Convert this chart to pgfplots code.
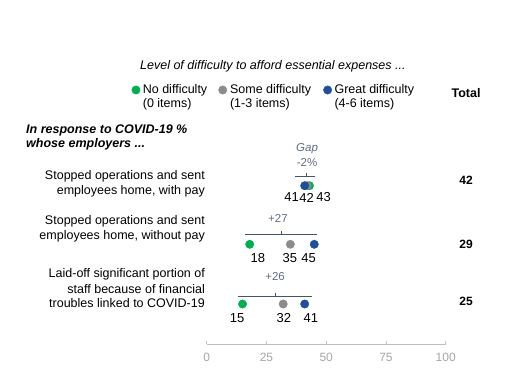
\documentclass[border=0pt]{standalone}
\usepackage{pgfplots}
\pgfplotsset{compat=1.18}
\usepackage{fontspec}
\setmainfont{Liberation Sans}
\definecolor{cgreen}{HTML}{00B050}
\definecolor{cgray}{HTML}{8C8C8C}
\definecolor{cblue}{HTML}{1F4E9A}
\definecolor{cbrack}{HTML}{44546A}
\definecolor{cgap}{HTML}{5E6F82}
\definecolor{caxis}{HTML}{BFBFBF}
\definecolor{ctick}{HTML}{A6A6A6}
\newcommand{\fs}{\fontsize{12bp}{14bp}\selectfont}
\newcommand{\fn}{\fontsize{12.5bp}{14bp}\selectfont}
\newcommand{\fd}{\fontsize{13bp}{14bp}\selectfont}
\newcommand{\fg}{\fontsize{11.5bp}{12bp}\selectfont}
\begin{document}
\begin{tikzpicture}
\begin{axis}[
  scale only axis, width=239bp, height=344bp,
  xmin=0, xmax=100, ymin=48, ymax=392,
  clip=false,
  axis y line=none,
  axis x line=bottom,
  x axis line style={draw=caxis, line width=0.8pt, -},
  xtick={0,25,50,75,100},
  tick align=inside,
  major tick length=3bp,
  every tick/.style={draw=caxis, line width=0.8pt},
  xtick pos=bottom,
  /pgf/number format/assume math mode=true,
  xticklabel style={font=\fs, text=ctick, yshift=-6bp},
  mark size=4.2bp,
]
% brackets
\draw[cbrack, line width=0.8pt] (axis cs:36.9,216) -- (axis cs:45.3,216) (axis cs:41.8,216) -- (axis cs:41.8,219.3);
\draw[cbrack, line width=0.8pt] (axis cs:16.0,158) -- (axis cs:46.2,158) (axis cs:31.4,158) -- (axis cs:31.4,161.3);
\draw[cbrack, line width=0.8pt] (axis cs:13.1,96) -- (axis cs:44.1,96) (axis cs:28.6,96) -- (axis cs:28.6,99.3);
% dots
\addplot[only marks, mark=*, color=cgreen] coordinates {(43,206.3) (18,147.7) (15,88)};
\addplot[only marks, mark=*, color=cgray] coordinates {(42,206.3) (35,147.7) (32,88)};
\addplot[only marks, mark=*, color=cblue] coordinates {(41,206.3) (45,147.7) (41,88)};
% legend
\addplot[only marks, mark=*, color=cgreen, forget plot] coordinates {(-29.6,302)};
\addplot[only marks, mark=*, color=cgray, forget plot] coordinates {(6.7,302)};
\addplot[only marks, mark=*, color=cblue, forget plot] coordinates {(50.6,302)};
\node[anchor=west, font=\fn, inner sep=0pt] at (axis cs:-26.8,302) {No difficulty};
\node[anchor=west, font=\fn, inner sep=0pt] at (axis cs:-26.8,287.7) {(0 items)};
\node[anchor=west, font=\fn, inner sep=0pt] at (axis cs:9.7,302) {Some difficulty};
\node[anchor=west, font=\fn, inner sep=0pt] at (axis cs:9.7,287.7) {(1-3 items)};
\node[anchor=west, font=\fn, inner sep=0pt] at (axis cs:53.4,302) {Great difficulty};
\node[anchor=west, font=\fn, inner sep=0pt] at (axis cs:53.4,287.7) {(4-6 items)};
% title
\node[font=\fn\itshape, inner sep=0pt] at (axis cs:27.7,326) {Level of difficulty to afford essential expenses ...};
\node[font=\fn\bfseries, inner sep=0pt] at (axis cs:108.5,298.7) {Total};
% heading
\node[anchor=west, font=\fn\bfseries\itshape, inner sep=0pt] at (axis cs:-75.6,262) {In response to COVID-19 \%};
\node[anchor=west, font=\fn\bfseries\itshape, inner sep=0pt] at (axis cs:-75.6,248) {whose employers ...};
% row labels
\node[anchor=east, font=\fn, inner sep=0pt] at (axis cs:-0.7,215.3) {Stopped operations and sent};
\node[anchor=east, font=\fn, inner sep=0pt] at (axis cs:-0.7,200.3) {employees home, with pay};
\node[anchor=east, font=\fn, inner sep=0pt] at (axis cs:-0.7,171) {Stopped operations and sent};
\node[anchor=east, font=\fn, inner sep=0pt] at (axis cs:-0.7,156) {employees home, without pay};
\node[anchor=east, font=\fn, inner sep=0pt] at (axis cs:-0.7,117.7) {Laid-off significant portion of};
\node[anchor=east, font=\fn, inner sep=0pt] at (axis cs:-0.7,102.7) {staff because of financial};
\node[anchor=east, font=\fn, inner sep=0pt] at (axis cs:-0.7,88.7) {troubles linked to COVID-19};
% gaps
\node[font=\fg\itshape, text=cgap, inner sep=0pt] at (axis cs:42.0,243) {Gap};
\node[font=\fg, text=cgap, inner sep=0pt] at (axis cs:42.0,229.3) {-2\%};
\node[font=\fg, text=cgap, inner sep=0pt] at (axis cs:29.8,174) {+27};
\node[font=\fg, text=cgap, inner sep=0pt] at (axis cs:28.6,115) {+26};
% data labels
\node[font=\fd, inner sep=0pt] at (axis cs:35.5,194.5) {41};
\node[font=\fd, inner sep=0pt] at (axis cs:41.8,194.5) {42};
\node[font=\fd, inner sep=0pt] at (axis cs:48.9,194.5) {43};
\node[font=\fd, inner sep=0pt] at (axis cs:21.4,133.5) {18};
\node[font=\fd, inner sep=0pt] at (axis cs:34.8,133.5) {35};
\node[font=\fd, inner sep=0pt] at (axis cs:42.6,133.5) {45};
\node[font=\fd, inner sep=0pt] at (axis cs:12.7,73.5) {15};
\node[font=\fd, inner sep=0pt] at (axis cs:32.3,73.5) {32};
\node[font=\fd, inner sep=0pt] at (axis cs:43.6,73.5) {41};
% totals
\node[font=\fs\bfseries, inner sep=0pt] at (axis cs:108.5,212) {42};
\node[font=\fs\bfseries, inner sep=0pt] at (axis cs:108.5,147.7) {29};
\node[font=\fs\bfseries, inner sep=0pt] at (axis cs:108.5,90.3) {25};
\coordinate (bl) at (axis cs:-86.49,0);
\coordinate (tr) at (axis cs:127.74,392);
\end{axis}
\pgfresetboundingbox
\useasboundingbox (bl) rectangle (tr);
\end{tikzpicture}
\end{document}
